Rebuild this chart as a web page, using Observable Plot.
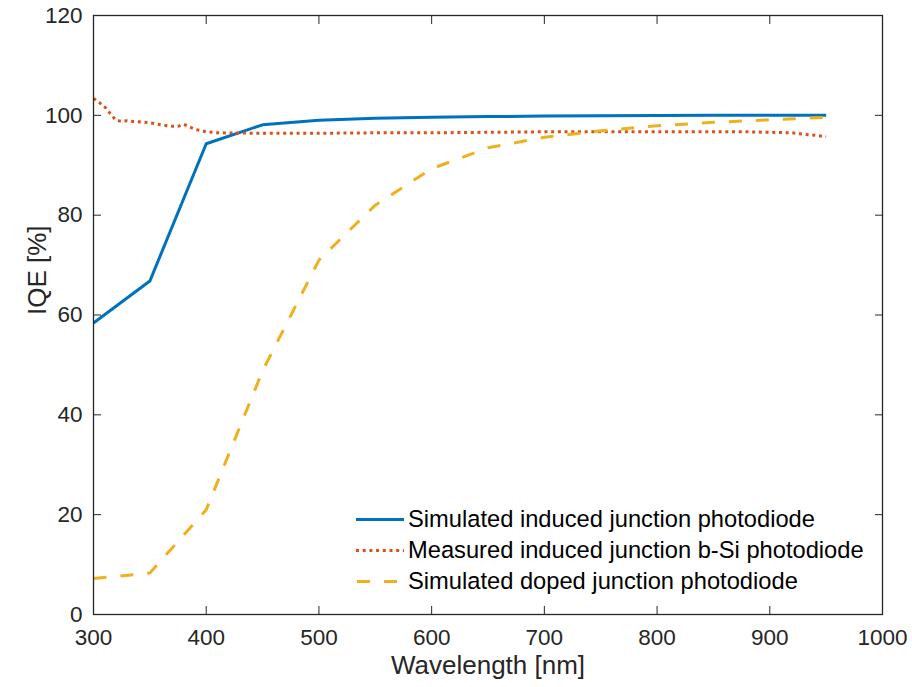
<!DOCTYPE html>
<html>
<head>
<meta charset="utf-8">
<script src="https://cdn.jsdelivr.net/npm/d3@7"></script>
<script src="https://cdn.jsdelivr.net/npm/@observablehq/plot@0.6"></script>
<style>
  html, body { margin: 0; padding: 0; background: #fff; }
  #wrap { position: relative; width: 912px; height: 687px; font-family: "Liberation Sans", Arial, sans-serif; }
  #legend { position: absolute; left: 352px; top: 504px; font-size: 23.7px; color: #000; }
  .row { display: flex; align-items: center; height: 31px; }
  .row svg { width: 54px; height: 31px; flex: none; }
  .row span { margin-left: 2px; white-space: nowrap; }
</style>
</head>
<body>
<div id="wrap"></div>
<script>
// Simulated induced junction photodiode
const simInducedWl  = [300, 350, 400, 450, 500, 550, 600, 650, 700, 750, 800, 850, 900, 950];
const simInducedIqe = [58.4, 66.8, 94.3, 98.1, 99.0, 99.4, 99.6, 99.75, 99.85, 99.9, 99.95, 100, 100, 100];

// Measured induced junction b-Si photodiode
const measWl  = [300, 305, 310, 315, 320, 325, 330, 340, 350, 360, 370, 375, 380, 390, 400, 410, 450, 500, 550, 600, 650, 700, 750, 800, 850, 880, 900, 920, 930, 940, 950];
const measIqe = [103.4, 102.6, 101.7, 100.3, 99.0, 98.8, 98.9, 98.7, 98.5, 98.1, 97.8, 97.8, 98.2, 97.2, 96.7, 96.5, 96.4, 96.4, 96.5, 96.5, 96.6, 96.7, 96.7, 96.7, 96.7, 96.7, 96.6, 96.5, 96.2, 96.0, 95.7];

// Simulated doped junction photodiode
const simDopedWl  = [300, 350, 400, 450, 500, 550, 600, 650, 700, 750, 800, 850, 900, 950];
const simDopedIqe = [7.2, 8.3, 21.0, 48.8, 71.0, 82.0, 89.3, 93.5, 95.6, 96.9, 97.9, 98.6, 99.1, 99.6];

const seriesNames = [
  "Simulated induced junction photodiode",
  "Measured induced junction b-Si photodiode",
  "Simulated doped junction photodiode"
];
const seriesColors = ["#0072BD", "#D95319", "#EDB120"];
const seriesDash = [null, "3,3.7", "13,14"];

const xTicks = [300, 400, 500, 600, 700, 800, 900, 1000];
const yTicks = [0, 20, 40, 60, 80, 100, 120];
const xLabel = "Wavelength [nm]";
const yLabel = "IQE [%]";

const toRows = (wl, v) => wl.map((w, i) => ({w, v: v[i]}));
const data = [
  toRows(simInducedWl, simInducedIqe),
  toRows(measWl, measIqe),
  toRows(simDopedWl, simDopedIqe)
];

const axisColor = "#262626";
const font = "Liberation Sans, Arial, sans-serif";

const plot = Plot.plot({
  width: 912,
  height: 687,
  marginLeft: 93,
  marginRight: 30,
  marginTop: 15,
  marginBottom: 73,
  style: {fontFamily: font, background: "#fff", color: axisColor, overflow: "visible"},
  x: {domain: [300, 1000]},
  y: {domain: [0, 120]},
  marks: [
    // lines
    ...data.map((rows, i) => Plot.line(rows, {
      x: "w", y: "v",
      stroke: seriesColors[i],
      strokeWidth: 3,
      strokeDasharray: seriesDash[i] ?? undefined,
      strokeLinecap: "butt",
      strokeLinejoin: "round"
    })),
    // inward ticks on all four sides
    Plot.axisX(xTicks, {anchor: "bottom", tickSize: 8, dy: -8, text: null, label: null, stroke: axisColor}),
    Plot.axisX(xTicks, {anchor: "top", tickSize: 8, dy: 8, text: null, label: null, stroke: axisColor}),
    Plot.axisY(yTicks, {anchor: "left", tickSize: 8, dx: 8, text: null, label: null, stroke: axisColor}),
    Plot.axisY(yTicks, {anchor: "right", tickSize: 8, dx: -8, text: null, label: null, stroke: axisColor}),
    // tick labels
    Plot.axisX(xTicks, {anchor: "bottom", tickSize: 0, tickPadding: 15, fontSize: 22.5, label: null, fill: axisColor, tickFormat: d => String(d)}),
    Plot.axisY(yTicks, {anchor: "left", tickSize: 0, tickPadding: 11, fontSize: 22.5, label: null, fill: axisColor, tickFormat: d => String(d)}),
    // axis titles
    Plot.text([xLabel], {frameAnchor: "bottom", dy: 59, fontSize: 26, fill: axisColor}),
    Plot.text([yLabel], {frameAnchor: "left", dx: -56, rotate: -90, fontSize: 26, fill: axisColor}),
    Plot.frame({stroke: axisColor, strokeWidth: 1.3})
  ]
});

const wrap = document.getElementById("wrap");
wrap.appendChild(plot);

// legend
const legend = document.createElement("div");
legend.id = "legend";
seriesNames.forEach((name, i) => {
  const row = document.createElement("div");
  row.className = "row";
  const dash = seriesDash[i] ? `stroke-dasharray="${seriesDash[i]}"` : "";
  const x1 = i === 2 ? 5 : 4;
  row.innerHTML = `<svg viewBox="0 0 54 31"><line x1="${x1}" x2="52" y1="15.5" y2="15.5" stroke="${seriesColors[i]}" stroke-width="3" ${dash}/></svg><span>${name}</span>`;
  legend.appendChild(row);
});
wrap.appendChild(legend);
</script>
</body>
</html>
